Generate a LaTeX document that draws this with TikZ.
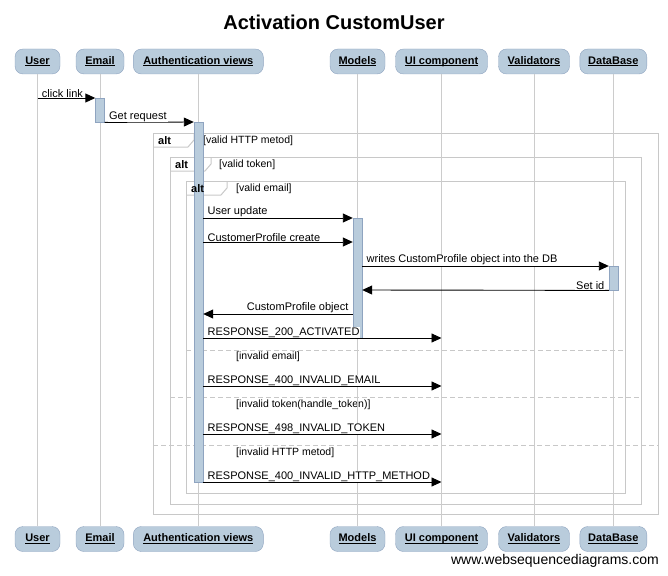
\documentclass[tikz,border=0pt]{standalone}
\usepackage{fontspec}
\setmainfont{Liberation Sans}
\usepackage{xcolor}
\usepackage{tikz}
\usetikzlibrary{arrows.meta, positioning, calc}
\definecolor{partfill}{HTML}{B9CCDC}
\definecolor{partdraw}{HTML}{8FA4C0}
\definecolor{lifegray}{HTML}{CCCCCC}
\definecolor{framegray}{HTML}{C8C8C8}
\newcommand{\pname}[1]{\underline{\smash{#1}}}
\tikzstyle{participant} = [rectangle, rounded corners=8pt, minimum height=25pt, inner sep=0pt, text height=8pt, text depth=2.5pt, draw=partdraw, fill=partfill, font=\fontsize{11}{13}\selectfont\bfseries]
\tikzstyle{activation} = [rectangle, minimum width=9pt, inner sep=0pt, draw=partdraw, fill=partfill, anchor=north]
\tikzstyle{lifeline} = [draw=lifegray, line width=1pt]
\tikzstyle{frame} = [draw=framegray, line width=1pt]
\tikzstyle{separator} = [draw=framegray, line width=1pt, dash pattern=on 5pt off 3pt]
\tikzstyle{msg} = [line width=0.9pt, -{Triangle[length=10pt,width=9pt]}]
\tikzstyle{lbl} = [inner xsep=1pt, inner ysep=0.3pt, fill=white, font=\fontsize{11}{13}\selectfont]
\tikzstyle{guard} = [inner sep=1pt, anchor=west, font=\fontsize{10.5}{12}\selectfont]

\begin{document}
\begin{tikzpicture}[x=1pt, y=-1pt]
    \useasboundingbox (0,0) rectangle (668,575);

    % Title
    \node (title) at (334,22) {\fontsize{20}{24}\selectfont\bfseries Activation CustomUser};

    % Alt frames
    \foreach \x/\y/\r/\b in {153/133/658/514, 170/157/641/504, 186/181/625/493} {
        \draw[frame] (\x,\y) rectangle (\r,\b);
        \draw[frame] (\x,\y+14) -- (\x+35,\y+14) -- (\x+41,\y+7) -- (\x+41,\y);
    }
    \node[guard] (gHttp) at (202,141) {[valid HTTP metod]};
    \node[guard] (gToken) at (218,165) {[valid token]};
    \node[guard] (gEmail) at (235,189) {[valid email]};

    % Else parts
    \draw[separator] (186,350) -- (625,350);
    \draw[separator] (170,397) -- (641,397);
    \draw[separator] (153,445) -- (658,445);
    \node[guard] (gInvEmail) at (235,357) {[invalid email]};
    \node[guard] (gInvToken) at (235,405) {[invalid token(handle\_token)]};
    \node[guard] (gInvHttp) at (235,453) {[invalid HTTP metod]};

    % Participants
    \foreach \n/\x/\w/\t in {user/37.5/45/User, email/100/48/Email, auth/198.3/130/Authentication views, models/357.5/55/Models, ui/441.5/92/UI component, valid/534/71/Validators, db/613.3/67/DataBase} {
        \node[participant, minimum width=\w pt] (\n) at (\x,61.5) {\pname{\t}};
        \node[participant, minimum width=\w pt] (\n-b) at (\x,539) {\pname{\t}};
        \draw[lifeline] (\n.south) -- (\n-b.north);
    }

    % Activations
    \node[activation, minimum height=24pt] (emailAct) at (100,98) {};
    \node[activation, minimum height=360pt] (authAct) at (198.5,122) {};
    \node[activation, minimum height=120pt] (modelsAct) at (357.5,218) {};
    \node[activation, minimum height=24pt] (dbAct) at (613.5,266) {};

    % Frame labels
    \foreach \x/\y in {153/133, 170/157, 186/181}
        \node[inner sep=1pt, anchor=west, font=\fontsize{11}{13}\selectfont\bfseries] (alt\x) at (\x+4,\y+7.5) {alt};

    % Message levels
    \foreach \n/\yy in {upd/218, cre/242, wri/266, set/290, obj/314, r200/338, r400/386, r498/434, r405/482}
        \coordinate (\n) at (0,\yy);
    \coordinate (click) at (0,98);

    % Messages
    \draw[msg] (user |- click) -- node[lbl, pos=0, anchor=south west, xshift=3pt] {click link} (emailAct.north west);
    \draw[msg] (emailAct.south east) -- node[lbl, pos=0, anchor=south west, xshift=3pt] {Get request} (authAct.north west);
    \draw[msg] (authAct.east |- upd) -- node[lbl, pos=0, anchor=south west, xshift=3pt] {User update} (modelsAct.north west);
    \draw[msg] (authAct.east |- cre) -- node[lbl, pos=0, anchor=south west, xshift=3pt] {CustomerProfile create} (modelsAct.west |- cre);
    \draw[msg] (modelsAct.east |- wri) -- node[lbl, pos=0, anchor=south west, xshift=3pt] {writes CustomProfile object into the DB} (dbAct.north west);
    \draw[msg] (dbAct.south west) -- node[lbl, pos=0, anchor=south east, xshift=-3pt] {Set id} (modelsAct.east |- set);
    \draw[msg] (modelsAct.west |- obj) -- node[lbl, pos=0, anchor=south east, xshift=-3pt] {CustomProfile object} (authAct.east |- obj);
    \draw[msg] (authAct.east |- r200) -- node[lbl, pos=0, anchor=south west, xshift=3pt] {RESPONSE\_200\_ACTIVATED} (ui |- r200);
    \draw[msg] (authAct.east |- r400) -- node[lbl, pos=0, anchor=south west, xshift=3pt] {RESPONSE\_400\_INVALID\_EMAIL} (ui |- r400);
    \draw[msg] (authAct.east |- r498) -- node[lbl, pos=0, anchor=south west, xshift=3pt] {RESPONSE\_498\_INVALID\_TOKEN} (ui |- r498);
    \draw[msg] (authAct.east |- r405) -- node[lbl, pos=0, anchor=south west, xshift=3pt] {RESPONSE\_400\_INVALID\_HTTP\_METHOD} (ui |- r405);

    % Footer
    \node[anchor=east, inner sep=0pt, font=\fontsize{14}{16}\selectfont] (footer) at (659,561) {www.websequencediagrams.com};
\end{tikzpicture}
\end{document}
